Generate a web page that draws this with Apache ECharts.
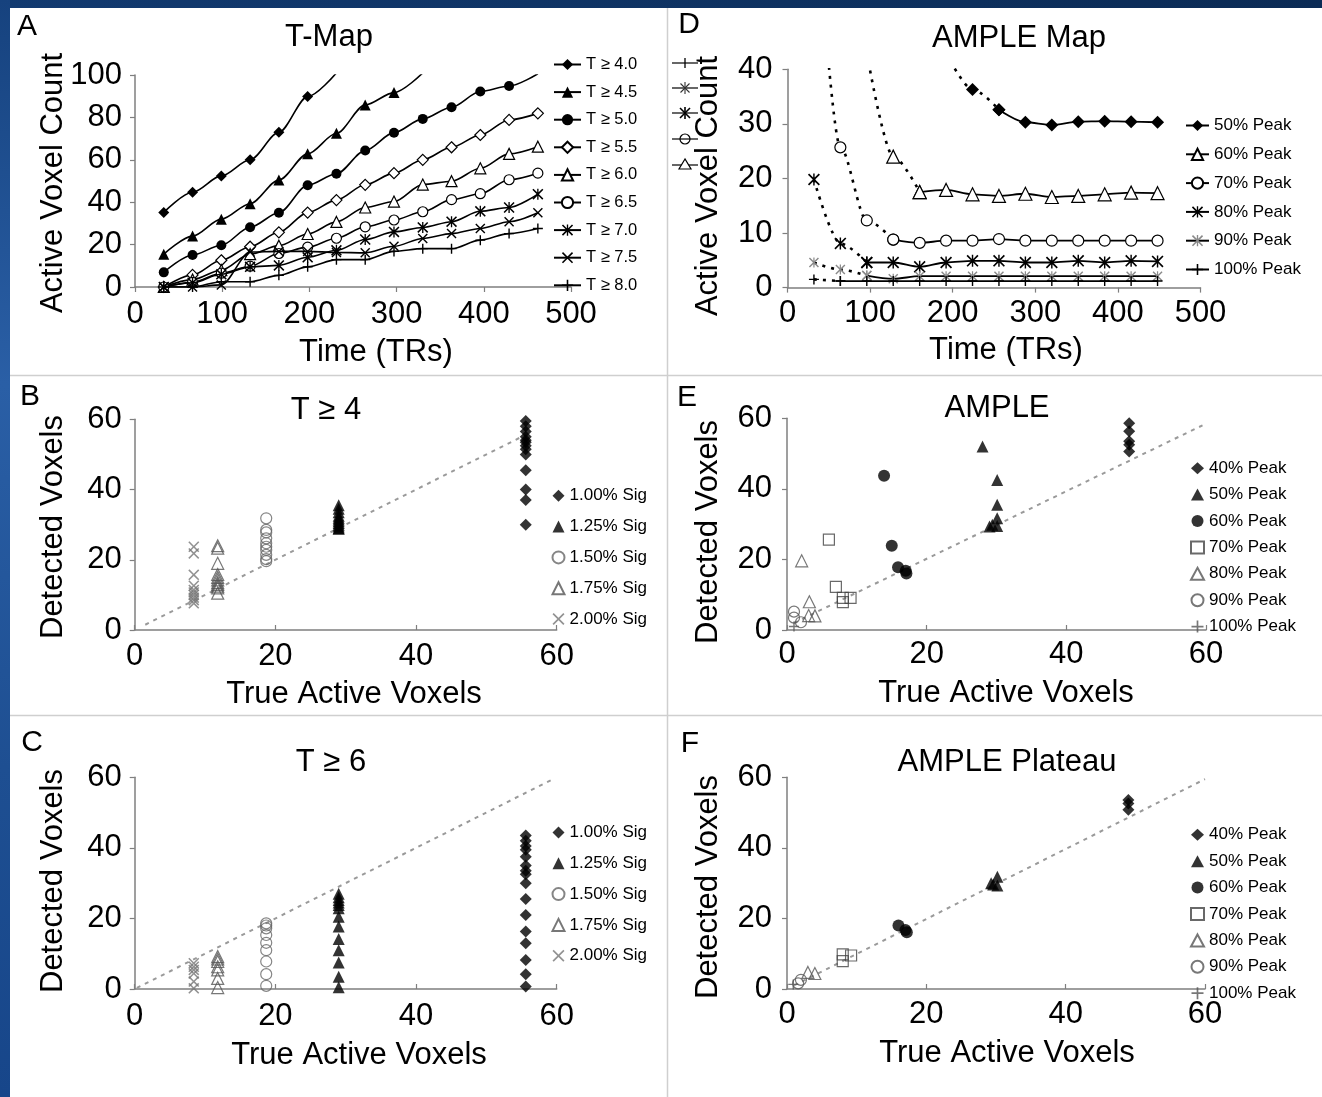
<!DOCTYPE html>
<html>
<head>
<meta charset="utf-8">
<title>T-Map and AMPLE voxel detection</title>
<script src="https://cdn.jsdelivr.net/npm/echarts/dist/echarts.min.js"></script>
<style>
  html, body { margin: 0; padding: 0; background: #ffffff; }
  #chart { width: 1322px; height: 1097px; }
</style>
</head>
<body>
<div id="chart"></div>
<script>
const FONT = "'Liberation Sans', Arial, Helvetica, sans-serif";

// ---------- Panel A: T-map active voxel count over time ----------
const timeA = [33, 66, 99, 132, 165, 198, 231, 264, 297, 330, 363, 396, 429, 462];
const tThresholdNames = ['T ≥ 4.0', 'T ≥ 4.5', 'T ≥ 5.0', 'T ≥ 5.5', 'T ≥ 6.0', 'T ≥ 6.5', 'T ≥ 7.0', 'T ≥ 7.5', 'T ≥ 8.0'];
const countT40 = [35.2, 44.7, 52.4, 60.0, 73.0, 89.8, 101];
const countT45 = [15.5, 24.0, 32.0, 39.3, 50.5, 62.8, 72.5, 85.9, 91.7, 101];
const countT50 = [6.9, 15.1, 19.7, 28.2, 35.0, 48.0, 53.4, 64.4, 72.8, 79.3, 84.8, 92.2, 94.8, 100.6];
const countT55 = [0, 5.7, 12.6, 19.0, 25.8, 35.1, 41.0, 48.2, 53.7, 60.0, 65.9, 71.7, 78.8, 81.9];
const countT60 = [0, 3.5, 8.0, 15.5, 19.5, 25.0, 30.7, 37.5, 40.3, 48.3, 49.9, 56.0, 62.8, 66.2];
const countT65 = [0, 2.2, 6.5, 9.8, 15.8, 18.8, 23.0, 28.4, 31.6, 35.5, 41.2, 44.0, 50.6, 53.7];
const countT70 = [0, 2.0, 6.0, 9.5, 10.2, 14.0, 17.3, 22.4, 26.0, 28.1, 30.8, 35.7, 37.5, 43.8];
const countT75 = [0, 0, 1.0, 16.5, 16.8, 16.8, 16.3, 16.1, 19.2, 22.9, 25.2, 27.6, 30.8, 35.0];
const countT80 = [0, 0, 2.5, 2.5, 5.5, 9.5, 12.9, 12.9, 16.8, 18.1, 18.1, 22.1, 25.2, 27.6];

// ---------- Panel D: AMPLE map active voxel count over time ----------
const timeD = [32, 64, 96, 128, 160, 192, 224, 256, 288, 320, 352, 384, 416, 448];
const peakLevelNames = ['50% Peak', '60% Peak', '70% Peak', '80% Peak', '90% Peak', '100% Peak'];
const peak50 = [null, null, null, null, null, 43, 36.3, 32.6, 30.3, 29.8, 30.4, 30.5, 30.4, 30.3];
const peak60 = [null, null, 43, 24.0, 17.5, 17.9, 17.1, 16.8, 17.2, 16.6, 16.8, 17.1, 17.4, 17.3];
const peak70 = [75, 25.7, 12.3, 8.8, 8.2, 8.6, 8.6, 8.9, 8.6, 8.6, 8.6, 8.6, 8.6, 8.6];
const peak80 = [19.8, 8.1, 4.6, 4.6, 3.8, 4.6, 4.9, 4.9, 4.6, 4.6, 4.9, 4.6, 4.9, 4.8];
const peak90 = [4.6, 3.3, 2.2, 1.6, 2.1, 2.1, 2.1, 2.1, 2.1, 2.1, 2.1, 2.1, 2.1, 2.1];
const peak100 = [1.5, 1.2, 1.2, 1.2, 1.2, 1.2, 1.2, 1.2, 1.2, 1.2, 1.2, 1.2, 1.2, 1.2];
// index of the first plateau sample for each level (earlier samples are the dashed rise)
const plateauStart = [7, 4, 3, 2, 2, 1];

// ---------- Panels B and C: detected vs true active voxels ----------
const sigNames = ['1.00% Sig', '1.25% Sig', '1.50% Sig', '1.75% Sig', '2.00% Sig'];
const trueActive = [55.6, 29.0, 18.7, 11.8, 8.4];
const detectedT4_100 = [59.5, 58, 56.5, 55, 54, 53.5, 52.5, 51.5, 50, 45.5, 40, 37, 30];
const detectedT4_125 = [35.5, 34.5, 33.5, 32.5, 32, 31.5, 31, 30.5, 30, 29.5, 29, 28.8];
const detectedT4_150 = [31.8, 28.5, 27.8, 26.1, 24.7, 23.7, 22.8, 21.4, 20.2, 19.6];
const detectedT4_175 = [24, 23.3, 19, 15.8, 15, 14.3, 13.5, 13, 12.5, 12, 10.5];
const detectedT4_200 = [23.7, 21.8, 15.7, 12.6, 11.4, 10.7, 10, 9.2, 8.5, 7.6];
const detectedT6_100 = [43.5, 42, 40.5, 39.5, 37.5, 35, 33.5, 32.5, 30, 25.5, 21, 16.3, 13, 8.2, 4.2, 0.7];
const detectedT6_125 = [27, 26, 25.2, 24.5, 23.8, 22.9, 20.5, 17.7, 14.2, 11, 7.5, 3.5, 0.5];
const detectedT6_150 = [18.6, 18, 17.2, 15.3, 13.1, 11, 7.8, 4.2, 0.9];
const detectedT6_175 = [9.2, 8.5, 7.8, 6.3, 5.4, 3, 0.4];
const detectedT6_200 = [7.3, 6.3, 5.4, 4.4, 2.1, 0.2];
const identityB = [[1.5, 1.5], [55.5, 55.5]];
const identityC = [[0.3, 0.3], [59.5, 59.5]];

// ---------- Panels E and F: AMPLE [true, detected] pairs ----------
const ampleNames = ['40% Peak', '50% Peak', '60% Peak', '70% Peak', '80% Peak', '90% Peak', '100% Peak'];
const ample40 = [[49, 58.6], [49, 56.3], [49, 53.5], [49, 52.5], [49, 50.6]];
const ample50 = [[28, 52], [30.1, 42.5], [30.1, 35.5], [30.1, 31.7], [29.4, 29.8], [30.1, 29.5], [29, 29.3]];
const ample60 = [[13.9, 43.7], [15, 23.9], [15.9, 17.8], [17, 16.8], [17.1, 16]];
const ample70 = [[6, 25.6], [7, 12.2], [8, 9.1], [8, 7.9], [9.1, 9.1]];
const ample80 = [[2.1, 19.6], [3.2, 8], [3.1, 4.1], [4, 4]];
const ample90 = [[1, 5.2], [1, 3.5], [2, 2.2]];
const ample100 = [[1, 1]];
const plateau40 = [[49, 53.6], [49, 52.6], [49, 50.8]];
const plateau50 = [[29.3, 30], [30.2, 31.8], [30.2, 29.3], [29.6, 29.6]];
const plateau60 = [[16, 18], [17, 16.7], [17.2, 16.1]];
const plateau70 = [[8, 9.8], [8, 7.9], [9.2, 9.5]];
const plateau80 = [[3, 4.7], [4, 4.4]];
const plateau90 = [[2, 2.6], [1.6, 1.6]];
const plateau100 = [[0.9, 1.3]];
const identityE = [[1, 2], [59.5, 58]];
const identityF = [[1, 1], [60, 59.5]];

// ---------- marker shapes ----------
const SYM_PLUS = 'path://M4.3,0H5.7V4.3H10V5.7H5.7V10H4.3V5.7H0V4.3H4.3Z';
const SYM_CROSS = 'path://M0,1L1,0L5,4L9,0L10,1L6,5L10,9L9,10L5,6L1,10L0,9L4,5Z';
const SYM_STAR = SYM_CROSS + 'M4.4,0H5.6V10H4.4Z';
const CLEAR = 'rgba(255,255,255,0)';

const tStyles = [
  { symbol: 'diamond', size: 11, fill: '#000' },
  { symbol: 'triangle', size: 11, fill: '#000' },
  { symbol: 'circle', size: 10, fill: '#000' },
  { symbol: 'diamond', size: 11, fill: '#fff', stroke: '#000' },
  { symbol: 'triangle', size: 11, fill: '#fff', stroke: '#000' },
  { symbol: 'circle', size: 10, fill: '#fff', stroke: '#000' },
  { symbol: SYM_STAR, size: 11, fill: '#000' },
  { symbol: SYM_CROSS, size: 10, fill: '#000' },
  { symbol: SYM_PLUS, size: 10, fill: '#000' }
];
const mapStyles = [
  { symbol: 'diamond', size: 13, fill: '#000', line: '#000' },
  { symbol: 'triangle', size: 13, fill: '#fff', stroke: '#000', line: '#000' },
  { symbol: 'circle', size: 11, fill: '#fff', stroke: '#000', line: '#000' },
  { symbol: SYM_STAR, size: 12, fill: '#000', line: '#000' },
  { symbol: SYM_STAR, size: 10, fill: '#8a8a8a', line: '#000' },
  { symbol: SYM_PLUS, size: 10, fill: '#000', line: '#000' }
];
const sigStyles = [
  { symbol: 'diamond', size: 12, fill: '#000' },
  { symbol: 'triangle', size: 12, fill: '#000' },
  { symbol: 'circle', size: 11, fill: CLEAR, stroke: '#666' },
  { symbol: 'triangle', size: 12, fill: CLEAR, stroke: '#555' },
  { symbol: SYM_CROSS, size: 11, fill: '#777' }
];
const ampleStyles = [
  { symbol: 'diamond', size: 12, fill: '#000' },
  { symbol: 'triangle', size: 12, fill: '#000' },
  { symbol: 'circle', size: 12, fill: '#000' },
  { symbol: 'rect', size: 11, fill: CLEAR, stroke: '#444' },
  { symbol: 'triangle', size: 12, fill: CLEAR, stroke: '#555' },
  { symbol: 'circle', size: 11, fill: CLEAR, stroke: '#555' },
  { symbol: SYM_PLUS, size: 10, fill: '#555' }
];

function markerStyle(s) {
  return s.stroke
    ? { color: s.fill, borderColor: s.stroke, borderWidth: 1.2 }
    : { color: s.fill, borderWidth: 0 };
}

// ---------- axes ----------
const AXIS_GRAY = '#7f7f7f';
function valueAxis(gridIndex, min, max, interval, margin, tickInside) {
  return {
    gridIndex, type: 'value', min, max, interval,
    axisLine: { show: true, onZero: false, lineStyle: { color: AXIS_GRAY, width: 1.5 } },
    axisTick: { show: true, inside: !!tickInside, length: 5, lineStyle: { color: AXIS_GRAY, width: 1.2 } },
    splitLine: { show: false },
    axisLabel: { color: '#000', fontSize: 31, fontFamily: FONT, margin }
  };
}

const grids = [
  { left: 135, top: 75, width: 436, height: 212 },        // A
  { left: 787.5, top: 69.3, width: 413, height: 218.3 },  // D
  { left: 134.7, top: 419.3, width: 422, height: 210.7 }, // B
  { left: 787, top: 418.3, width: 419, height: 211.7 },   // E
  { left: 134.7, top: 777.3, width: 422, height: 211.7 }, // C
  { left: 787, top: 777.3, width: 418, height: 211.7 }    // F
];

const xAxes = [
  valueAxis(0, 0, 500, 100, 12, false),
  valueAxis(1, 0, 500, 100, 10, false),
  valueAxis(2, 0, 60, 20, 11, true),
  valueAxis(3, 0, 60, 20, 9, true),
  valueAxis(4, 0, 60, 20, 12, true),
  valueAxis(5, 0, 60, 20, 10, true)
];
const yAxes = [
  valueAxis(0, 0, 100, 20, 13),
  valueAxis(1, 0, 40, 10, 15),
  valueAxis(2, 0, 60, 20, 13),
  valueAxis(3, 0, 60, 20, 15),
  valueAxis(4, 0, 60, 20, 13),
  valueAxis(5, 0, 60, 20, 15)
];

// ---------- series ----------
const series = [];

// A: threshold curves
const tCounts = [countT40, countT45, countT50, countT55, countT60, countT65, countT70, countT75, countT80];
tThresholdNames.forEach((name, i) => {
  const st = tStyles[i];
  series.push({
    type: 'line', name, xAxisIndex: 0, yAxisIndex: 0,
    data: tCounts[i].map((v, k) => [timeA[k], v]),
    smooth: 0.3, smoothMonotone: 'x', clip: true, silent: true,
    symbol: st.symbol, symbolSize: st.size,
    lineStyle: { color: '#000', width: 1.6 },
    itemStyle: markerStyle(st),
    z: 3 + i
  });
});

// D: dashed rise followed by solid plateau for every peak level
const peakValues = [peak50, peak60, peak70, peak80, peak90, peak100];
peakLevelNames.forEach((label, i) => {
  const st = mapStyles[i];
  const start = plateauStart[i];
  const values = peakValues[i];
  const rise = [];
  for (let k = 0; k <= start; k++) if (values[k] !== null) rise.push([timeD[k], values[k]]);
  const plateau = [];
  for (let k = start; k < timeD.length; k++) plateau.push([timeD[k], values[k]]);
  const common = {
    type: 'line', xAxisIndex: 1, yAxisIndex: 1, smooth: 0.3, smoothMonotone: 'x',
    clip: true, silent: true, symbol: st.symbol, symbolSize: st.size,
    itemStyle: markerStyle(st), z: 3 + i
  };
  series.push(Object.assign({}, common, {
    name: 'rise|' + label, data: rise,
    lineStyle: { color: st.line, width: 2.6, type: [3, 6], cap: 'butt' }
  }));
  series.push(Object.assign({}, common, {
    name: 'map|' + label, data: plateau,
    lineStyle: { color: st.line, width: 1.8 }
  }));
});

// B, C, E, F: identity reference lines
function identityLine(axisIndex, data) {
  return {
    type: 'line', xAxisIndex: axisIndex, yAxisIndex: axisIndex, data, symbol: 'none', silent: true,
    lineStyle: { color: '#9a9a9a', width: 2, type: [4, 5] }, z: 1
  };
}
series.push(identityLine(2, identityB), identityLine(4, identityC), identityLine(3, identityE), identityLine(5, identityF));

function scatter(axisIndex, name, data, st) {
  return {
    type: 'scatter', name, xAxisIndex: axisIndex, yAxisIndex: axisIndex, data, silent: true,
    symbol: st.symbol, symbolSize: st.size, itemStyle: markerStyle(st), z: 3
  };
}

const detectedT4 = [detectedT4_100, detectedT4_125, detectedT4_150, detectedT4_175, detectedT4_200];
const detectedT6 = [detectedT6_100, detectedT6_125, detectedT6_150, detectedT6_175, detectedT6_200];
sigNames.forEach((name, i) => {
  series.push(scatter(2, name, detectedT4[i].map(y => [trueActive[i], y]), sigStyles[i]));
  series.push(scatter(4, name, detectedT6[i].map(y => [trueActive[i], y]), sigStyles[i]));
});

const amplePairs = [ample40, ample50, ample60, ample70, ample80, ample90, ample100];
const plateauPairs = [plateau40, plateau50, plateau60, plateau70, plateau80, plateau90, plateau100];
ampleNames.forEach((name, i) => {
  series.push(scatter(3, name, amplePairs[i], ampleStyles[i]));
  series.push(scatter(5, name, plateauPairs[i], ampleStyles[i]));
});

// ---------- legends ----------
function legendBox(left, top, names, itemWidth, itemHeight, gap, fontSize, formatter) {
  const lg = {
    orient: 'vertical', left, top, padding: 0, itemWidth, itemHeight, itemGap: gap,
    selectedMode: false, data: names,
    textStyle: { color: '#000', fontSize, fontFamily: FONT, lineHeight: itemHeight }
  };
  if (formatter) lg.formatter = formatter;
  return lg;
}
const legends = [
  legendBox(553, 56, tThresholdNames, 27, 14, 10.6, 16.5),
  legendBox(1185, 117, peakLevelNames.map(n => 'map|' + n), 23, 14, 11.8, 17, n => n.split('|')[1]),
  legendBox(551.5, 487.3, sigNames, 12, 12, 13.8, 17),
  legendBox(551.5, 824, sigNames, 12, 12, 13.8, 17),
  legendBox(1190, 459.7, ampleNames, 13, 12, 9.4, 17),
  legendBox(1190, 826.3, ampleNames, 13, 12, 9.4, 17)
];

// ---------- page decoration, titles and axis names ----------
function txt(text, x, y, size, vertical) {
  return {
    type: 'text', x, y, rotation: vertical ? Math.PI / 2 : 0, silent: true,
    style: {
      text, font: size + 'px ' + FONT, fill: '#000',
      align: 'center', verticalAlign: 'middle', textAlign: 'center', textVerticalAlign: 'middle'
    }
  };
}
function seg(x1, y1, x2, y2, color, width) {
  return { type: 'line', silent: true, shape: { x1, y1, x2, y2 }, style: { stroke: color, lineWidth: width } };
}

const graphics = [
  { type: 'rect', silent: true, shape: { x: 0, y: 0, width: 1322, height: 8 },
    style: { fill: { type: 'linear', x: 0, y: 0, x2: 1, y2: 0,
      colorStops: [{ offset: 0, color: '#123a70' }, { offset: 1, color: '#0b2b55' }] } } },
  { type: 'rect', silent: true, shape: { x: 0, y: 0, width: 10, height: 1097 },
    style: { fill: { type: 'linear', x: 0, y: 0, x2: 0, y2: 1,
      colorStops: [{ offset: 0, color: '#16427e' }, { offset: 0.35, color: '#2a5fa6' },
                   { offset: 0.7, color: '#1e4f92' }, { offset: 1, color: '#17468a' }] } } },
  seg(667.5, 8, 667.5, 1097, '#cfcfcf', 1.5),
  seg(10, 375.5, 1322, 375.5, '#cfcfcf', 1.5),
  seg(10, 715.5, 1322, 715.5, '#cfcfcf', 1.5),

  txt('A', 27, 27, 30), txt('D', 689, 25, 30), txt('B', 30, 397, 30),
  txt('E', 687, 398, 30), txt('C', 32, 743, 30), txt('F', 690, 744, 30),

  txt('T-Map', 329, 37, 31), txt('AMPLE Map', 1019, 38, 31),
  txt('T ≥ 4', 326, 410, 31), txt('AMPLE', 997, 408, 31),
  txt('T ≥ 6', 331, 762, 31), txt('AMPLE Plateau', 1007, 762, 31),

  txt('Active Voxel Count', 53, 183, 31, true), txt('Time (TRs)', 376, 352, 31),
  txt('Active Voxel Count', 708, 186, 31, true), txt('Time (TRs)', 1006, 350, 31),
  txt('Detected Voxels', 53, 527, 31, true), txt('True Active Voxels', 354, 694, 31),
  txt('Detected Voxels', 708, 532, 31, true), txt('True Active Voxels', 1006, 693, 31),
  txt('Detected Voxels', 53, 881, 31, true), txt('True Active Voxels', 359, 1055, 31),
  txt('Detected Voxels', 708, 887, 31, true), txt('True Active Voxels', 1007, 1053, 31)
];

// small key glyphs stacked at the left edge of the AMPLE Map panel
const keyRows = [63, 88, 113, 139, 165];
keyRows.forEach(y => graphics.push(seg(672, y, 698, y, '#000', 1.2)));
graphics.push(seg(685, 58, 685, 68, '#000', 1.3));
graphics.push(seg(680.5, 83.5, 689.5, 92.5, '#333', 1.1), seg(680.5, 92.5, 689.5, 83.5, '#333', 1.1), seg(685, 82, 685, 94, '#333', 1.1));
graphics.push(seg(680, 108, 690, 118, '#000', 1.6), seg(680, 118, 690, 108, '#000', 1.6), seg(685, 107, 685, 119, '#000', 1.6));
graphics.push({ type: 'circle', silent: true, shape: { cx: 685, cy: 139, r: 5 }, style: { fill: 'rgba(0,0,0,0)', stroke: '#000', lineWidth: 1.2 } });
graphics.push({ type: 'polygon', silent: true, shape: { points: [[685, 159], [679, 169], [691, 169]] }, style: { fill: '#fff', stroke: '#000', lineWidth: 1.2 } });

const chart = echarts.init(document.getElementById('chart'), null, { renderer: 'canvas', width: 1322, height: 1097 });
chart.setOption({
  animation: false,
  backgroundColor: '#ffffff',
  textStyle: { fontFamily: FONT },
  grid: grids,
  xAxis: xAxes,
  yAxis: yAxes,
  legend: legends,
  series,
  graphic: { elements: graphics }
});
</script>
</body>
</html>
